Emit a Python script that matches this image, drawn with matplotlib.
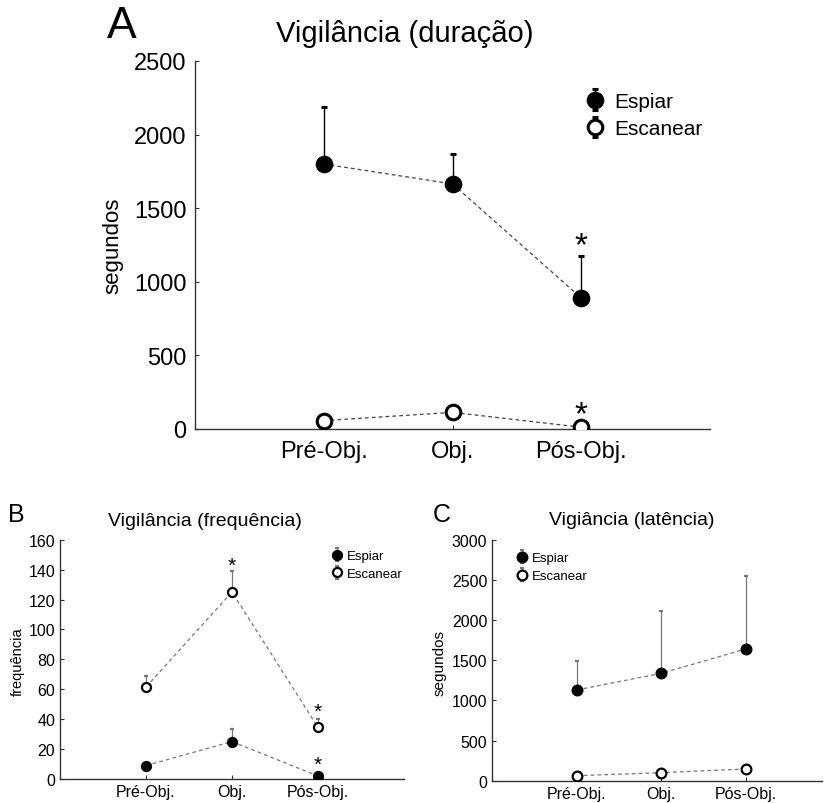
import matplotlib
matplotlib.use("Agg")
import matplotlib.pyplot as plt
import numpy as np

plt.rcParams['font.family'] = ['Liberation Sans', 'DejaVu Sans']

categories = ["Pré-Obj.", "Obj.", "Pós-Obj."]

# Panel A - duração (segundos)
a_espiar = [1800, 1665, 890]
a_espiar_err = [390, 205, 283]
a_escanear = [57, 113, 12]
a_escanear_err = [15, 15, 5]

# Panel B - frequência
b_espiar = [9, 25, 2]
b_espiar_err = [1, 8.5, 0.5]
b_escanear = [61.5, 125, 34.5]
b_escanear_err = [7.5, 14, 5.5]

# Panel C - latência (segundos)
c_espiar = [1130, 1337, 1640]
c_espiar_err = [365, 780, 913]
c_escanear = [62, 100, 146]
c_escanear_err = [10, 10, 10]

W, H = 825, 804
fig = plt.figure(figsize=(W / 100, H / 100), dpi=100)


def ax_px(l, t, r, b):
    return fig.add_axes([l / W, 1 - b / H, (r - l) / W, (b - t) / H])


def panel(ax, esp, esp_err, esc, esc_err, ms, mew, lw_err, ecolor, lcolor,
          tick_fs, cap):
    x = np.arange(len(categories))
    ax.plot(x, esp, linestyle=(0, (3, 2.5)), color=lcolor, lw=0.9, zorder=1)
    ax.plot(x, esc, linestyle=(0, (3, 2.5)), color=lcolor, lw=0.9, zorder=1)
    h1 = ax.errorbar(x, esp, yerr=[np.zeros(len(esp)), esp_err], fmt='o',
                     color='black', ms=ms, mec='black', mfc='black', mew=mew,
                     ecolor=ecolor, elinewidth=lw_err, capsize=cap,
                     capthick=0.8, zorder=3, label='Espiar')
    h2 = ax.errorbar(x, esc, yerr=[np.zeros(len(esc)), esc_err], fmt='o',
                     color='black', ms=ms, mec='black', mfc='white', mew=mew,
                     ecolor=ecolor, elinewidth=lw_err, capsize=cap,
                     capthick=0.8, zorder=3, label='Escanear')
    ax.set_xticks(x)
    ax.set_xticklabels(categories)
    for s in ['top', 'right']:
        ax.spines[s].set_visible(False)
    for s in ['left', 'bottom']:
        ax.spines[s].set_color('#333333')
        ax.spines[s].set_linewidth(1.0)
    ax.tick_params(direction='in', length=3, labelsize=tick_fs, color='#333333')
    return h1, h2


# ---------------- Panel A ----------------
axA = ax_px(195, 62, 710, 430)
panel(axA, a_espiar, a_espiar_err, a_escanear, a_escanear_err,
      ms=10.5, mew=2.2, lw_err=1.0, ecolor='black', lcolor='#444444',
      tick_fs=17, cap=2.5)
axA.set_xlim(-1, 3)
axA.set_ylim(0, 2500)
axA.set_yticks([0, 500, 1000, 1500, 2000, 2500])
axA.tick_params(axis='x', pad=8)
axA.tick_params(axis='y', pad=6)
axA.text(2, 1245, '*', ha='center', va='center', fontsize=24)
axA.text(2, 100, '*', ha='center', va='center', fontsize=24)
axA.legend(loc='upper left', bbox_to_anchor=(585 / W, 1 - 93 / H),
           bbox_transform=fig.transFigure, frameon=False, fontsize=15,
           handlelength=1.0, handletextpad=0.4, labelspacing=0.4,
           borderpad=0, borderaxespad=0)
fig.text(405 / W, 1 - 34 / H, 'Vigilância (duração)', ha='center',
         va='center', fontsize=21)
fig.text(107 / W, 1 - 27 / H, 'A', ha='left', va='center', fontsize=32)
fig.text(113 / W, 1 - 246 / H, 'segundos', ha='center', va='center',
         rotation=90, fontsize=16)

# ---------------- Panel B ----------------
axB = ax_px(60, 540.7, 404, 780)
panel(axB, b_espiar, b_espiar_err, b_escanear, b_escanear_err,
      ms=6.5, mew=1.6, lw_err=0.9, ecolor='#777777', lcolor='#777777',
      tick_fs=11.5, cap=1.5)
axB.set_xlim(-1, 3)
axB.set_ylim(0, 160)
axB.set_yticks(np.arange(0, 161, 20))
axB.text(1, 143, '*', ha='center', va='center', fontsize=15)
axB.text(2, 45, '*', ha='center', va='center', fontsize=15)
axB.text(2, 10, '*', ha='center', va='center', fontsize=15)
axB.legend(loc='upper left', bbox_to_anchor=(330 / W, 1 - 551 / H),
           bbox_transform=fig.transFigure, frameon=False, fontsize=9.5,
           handlelength=1.0, handletextpad=0.3, labelspacing=0.4,
           borderpad=0, borderaxespad=0)
fig.text(205 / W, 1 - 522 / H, 'Vigilância (frequência)', ha='center',
         va='center', fontsize=14)
fig.text(8 / W, 1 - 515 / H, 'B', ha='left', va='center', fontsize=18)
fig.text(18 / W, 1 - 662 / H, 'frequência', ha='center', va='center',
         rotation=90, fontsize=10.5)

# ---------------- Panel C ----------------
axC = ax_px(492.3, 540.7, 822, 781.7)
panel(axC, c_espiar, c_espiar_err, c_escanear, c_escanear_err,
      ms=7, mew=1.6, lw_err=0.9, ecolor='#777777', lcolor='#777777',
      tick_fs=11.5, cap=1.5)
axC.set_xlim(-1, 2.9)
axC.set_ylim(0, 3000)
axC.set_yticks(np.arange(0, 3001, 500))
axC.legend(loc='upper left', bbox_to_anchor=(515 / W, 1 - 553 / H),
           bbox_transform=fig.transFigure, frameon=False, fontsize=9.5,
           handlelength=1.0, handletextpad=0.3, labelspacing=0.45,
           borderpad=0, borderaxespad=0)
fig.text(632 / W, 1 - 521 / H, 'Vigiância (latência)', ha='center',
         va='center', fontsize=14)
fig.text(433 / W, 1 - 515 / H, 'C', ha='left', va='center', fontsize=18)
fig.text(440 / W, 1 - 663 / H, 'segundos', ha='center', va='center',
         rotation=90, fontsize=11)

fig.savefig('out.png', dpi=100)
